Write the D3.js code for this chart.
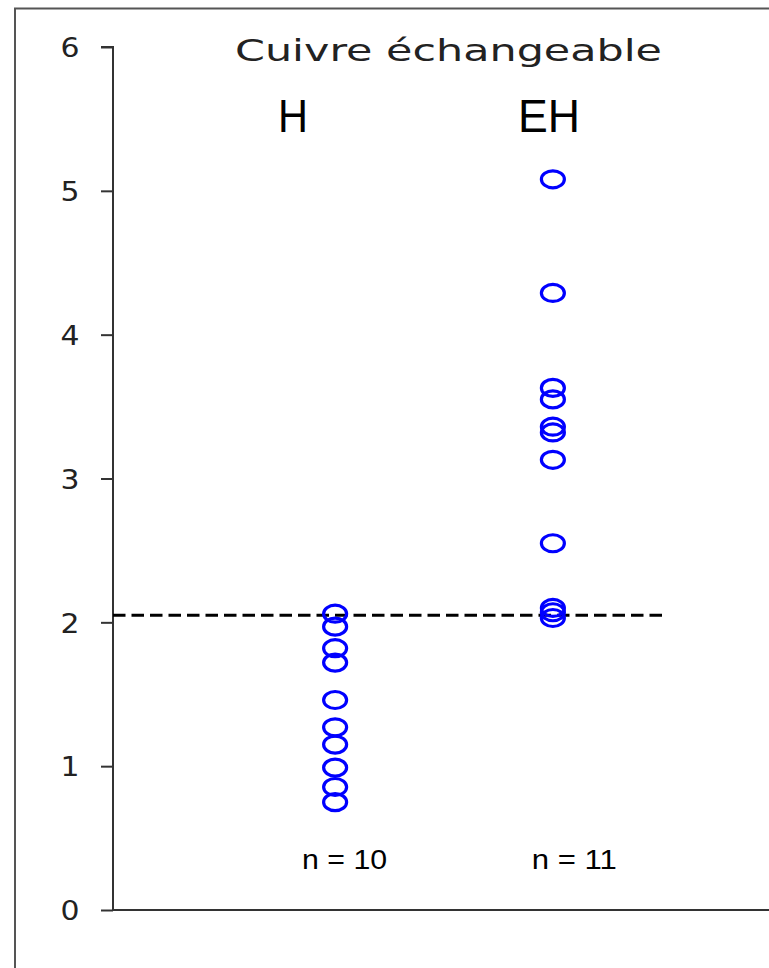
<!DOCTYPE html>
<html>
<head>
<meta charset="utf-8">
<script src="https://cdn.jsdelivr.net/npm/d3@7"></script>
<style>
  html, body { margin: 0; padding: 0; background: #fff; }
  svg { display: block; }
</style>
</head>
<body>
<script>
// Exchangeable copper, two groups of samples
const groups = ["H", "EH"];
const valuesH  = [2.06, 1.97, 1.82, 1.72, 1.46, 1.27, 1.15, 0.99, 0.855, 0.75];
const valuesEH = [5.08, 4.29, 3.63, 3.55, 3.36, 3.32, 3.13, 2.55, 2.10, 2.07, 2.03];
const threshold = 2.05;
const yTicks = [0, 1, 2, 3, 4, 5, 6];
const title = "Cuivre échangeable";
const countLabels = ["n = 10", "n = 11"];

const W = 769, H = 968;
const svg = d3.select("body").append("svg").attr("width", W).attr("height", H);

const y = d3.scaleLinear().domain([0, 6]).range([910, 47]);
const x = d3.scalePoint().domain(groups).range([113, 775]).padding(1.02);

// outer frame (only top and left edges fall inside the view)
svg.append("path")
  .attr("d", `M15,${H + 5} L15,8.5 L${W + 5},8.5`)
  .attr("fill", "none").attr("stroke", "#555").attr("stroke-width", 2);

// y axis
const yAxis = d3.axisLeft(y).tickValues(yTicks).tickSize(12).tickPadding(0).tickFormat(d3.format("d"));
const gy = svg.append("g").attr("transform", "translate(113,0)").call(yAxis);
gy.select(".domain").attr("stroke", "#333").attr("stroke-width", 2).attr("d", `M-12,${y(6)}H0V${y(0)}`);
gy.selectAll(".tick line").attr("stroke", "#333").attr("stroke-width", 2);
gy.selectAll(".tick text")
  .attr("x", -43).attr("dy", "0.36em")
  .attr("text-anchor", "middle")
  .attr("font-family", "DejaVu Sans, sans-serif")
  .attr("font-size", 27)
  .attr("fill", "#222")
  .attr("textLength", 19).attr("lengthAdjust", "spacingAndGlyphs");

// x axis baseline
svg.append("line")
  .attr("x1", 113).attr("x2", W + 5)
  .attr("y1", y(0)).attr("y2", y(0))
  .attr("stroke", "#333").attr("stroke-width", 2);

// threshold
svg.append("line")
  .attr("x1", 113).attr("x2", 666)
  .attr("y1", y(threshold)).attr("y2", y(threshold))
  .attr("stroke", "#000").attr("stroke-width", 3)
  .attr("stroke-dasharray", "12.5,6");

// points
const pts = [];
valuesH.forEach(v => pts.push({ g: "H", v }));
valuesEH.forEach(v => pts.push({ g: "EH", v }));
svg.append("g").selectAll("ellipse").data(pts).join("ellipse")
  .attr("cx", d => x(d.g))
  .attr("cy", d => y(d.v))
  .attr("rx", 11.5).attr("ry", 8.5)
  .attr("fill", "none").attr("stroke", "#0000ff").attr("stroke-width", 3.2);

// title
svg.append("text")
  .attr("x", 235).attr("y", 61)
  .attr("font-family", "DejaVu Sans, sans-serif")
  .attr("font-size", 31)
  .attr("fill", "#222")
  .attr("textLength", 427).attr("lengthAdjust", "spacingAndGlyphs")
  .text(title);

// group labels
const labelDx = { H: -42, EH: -4 };
const labelW = { H: 30, EH: 62 };
svg.append("g").selectAll("text").data(groups).join("text")
  .attr("x", d => x(d) + labelDx[d] - labelW[d] / 2)
  .attr("y", 132)
  .attr("font-family", "Liberation Sans, Arial, sans-serif")
  .attr("font-size", 47)
  .attr("fill", "#000")
  .attr("textLength", d => labelW[d]).attr("lengthAdjust", "spacingAndGlyphs")
  .text(d => d);

// sample counts
const countDx = [10, 22];
svg.append("g").selectAll("text").data(groups).join("text")
  .attr("x", (d, i) => x(d) + countDx[i] - 43)
  .attr("y", 869)
  .attr("font-family", "Liberation Sans, Arial, sans-serif")
  .attr("font-size", 27)
  .attr("fill", "#000")
  .attr("textLength", 85).attr("lengthAdjust", "spacingAndGlyphs")
  .text((d, i) => countLabels[i]);
</script>
</body>
</html>
